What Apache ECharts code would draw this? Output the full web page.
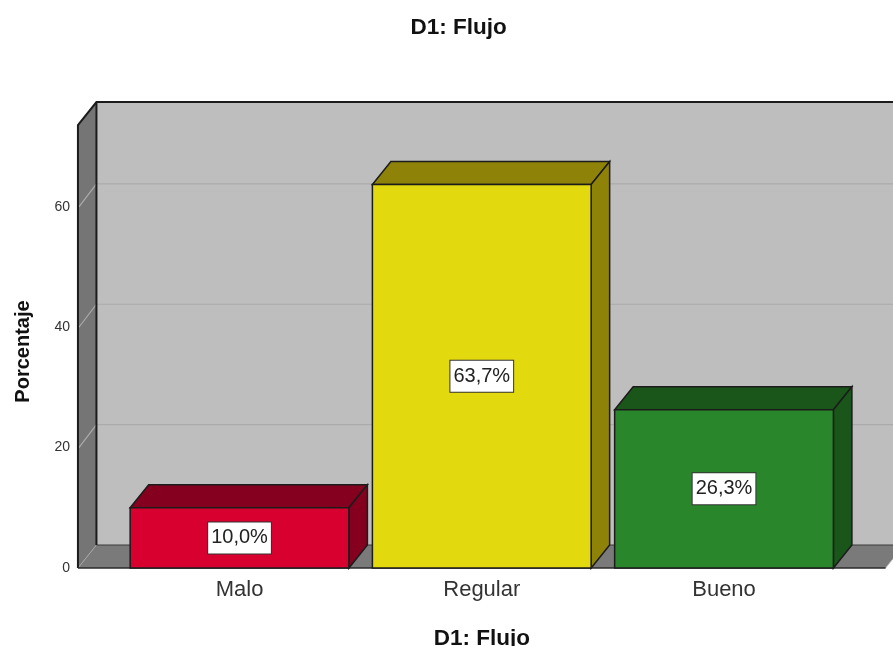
<!DOCTYPE html>
<html>
<head>
<meta charset="utf-8">
<style>html,body{margin:0;padding:0;background:#fff;overflow:hidden}#chart{width:893px;height:646px}</style>
<script src="https://cdn.jsdelivr.net/npm/echarts@6/dist/echarts.min.js"></script>
</head>
<body>
<div id="chart"></div>
<script>
// Frequency table for D1: Flujo
const categories = ['Malo', 'Regular', 'Bueno'];
const percentages = [10.0, 63.7, 26.3];
const yTicks = [0, 20, 40, 60];
const gridLines = [20, 40, 60];
const frontColors = ['#D7002E', '#E3D90F', '#29862B'];
const shadeColors = ['#84001E', '#8E8308', '#1A5519'];

// Oblique projection of the box: how far the back plane sits from the front plane
const DEPTH_X = 18.5;
const DEPTH_Y = 23;
const Y_MAX = 73.6;
const EDGE = '#1c1c1c';

const poly = (points, fill, stroke, lineWidth) => ({
  type: 'polygon',
  shape: { points },
  style: { fill, stroke: stroke || EDGE, lineWidth: lineWidth === undefined ? 1.5 : lineWidth }
});
const line = (points, stroke, lineWidth) => ({
  type: 'polyline',
  shape: { points },
  style: { fill: 'none', stroke, lineWidth }
});

// Back wall, side wall, floor and the gridlines that run across them
function renderWalls(params, api) {
  const band = api.size([1, 0])[0];
  const first = api.coord([0, 0]);
  const top = api.coord([0, Y_MAX])[1];
  const y0 = first[1];
  const xL = first[0] - band * 0.667;
  const xR = first[0] + band * 2 + band * 0.667;
  const backL = xL + DEPTH_X, backR = xR + DEPTH_X;
  const backTop = top - DEPTH_Y, backBottom = y0 - DEPTH_Y;
  const children = [
    poly([[backL, backTop], [backR, backTop], [backR, backBottom], [backL, backBottom]], '#BEBEBE', 'none', 0),
    poly([[xL, top], [backL, backTop], [backL, backBottom], [xL, y0]], '#757575', 'none', 0),
    poly([[xL, y0], [backL, backBottom], [backR, backBottom], [xR, y0]], '#7A7A7A', 'none', 0)
  ];
  gridLines.forEach(v => {
    const y = api.coord([0, v])[1];
    children.push(line([[xL + 1, y], [backL, y - DEPTH_Y], [backR, y - DEPTH_Y]], '#ABABAB', 1.2));
  });
  children.push(
    line([[xL, y0], [backL, backBottom]], '#A5A5A5', 1),
    line([[backL, backBottom], [backR, backBottom]], '#3A3A3A', 1),
    line([[xR, y0], [backR, backBottom]], '#BBBBBB', 1),
    line([[xL, y0], [xL, top], [backL, backTop], [backR, backTop]], EDGE, 2),
    line([[backL, backTop], [backL, backBottom]], EDGE, 2),
    line([[xL, y0], [xR, y0]], '#2A2A2A', 1.5)
  );
  return { type: 'group', children };
}

// One bar: front face, top face, shaded side face and its boxed value label
function renderBar(params, api) {
  const i = api.value(0);
  const v = api.value(1);
  const w = api.size([1, 0])[0] * 0.903;
  const [cx, yTop] = api.coord([i, v]);
  const y0 = api.coord([i, 0])[1];
  const l = cx - w / 2, r = cx + w / 2;
  const front = frontColors[i], shade = shadeColors[i];
  return {
    type: 'group',
    children: [
      poly([[l, yTop], [l + DEPTH_X, yTop - DEPTH_Y], [r + DEPTH_X, yTop - DEPTH_Y], [r, yTop]], shade),
      poly([[r, yTop], [r + DEPTH_X, yTop - DEPTH_Y], [r + DEPTH_X, y0 - DEPTH_Y], [r, y0]], shade),
      poly([[l, yTop], [r, yTop], [r, y0], [l, y0]], front),
      {
        type: 'text',
        x: cx,
        y: (yTop + y0) / 2,
        style: {
          text: v.toFixed(1).replace('.', ',') + '%',
          font: '20px "Liberation Sans", Arial, sans-serif',
          fill: '#222',
          align: 'center',
          verticalAlign: 'middle',
          backgroundColor: '#fff',
          borderColor: '#333',
          borderWidth: 1,
          padding: [6, 3, 5, 3]
        }
      }
    ]
  };
}

const chart = echarts.init(document.getElementById('chart'), null, { renderer: 'canvas' });
chart.setOption({
  animation: false,
  backgroundColor: '#fff',
  title: {
    text: 'D1: Flujo',
    left: 453.5,
    top: 11,
    textAlign: 'center',
    textStyle: { fontFamily: '"Liberation Sans", Arial, sans-serif', fontSize: 22.5, fontWeight: 'bold', color: '#111' }
  },
  grid: { left: 118.4, width: 726.75, top: 125, bottom: 78, outerBoundsMode: 'none' },
  xAxis: {
    type: 'category',
    data: categories,
    name: 'D1: Flujo',
    nameLocation: 'middle',
    nameGap: 59,
    nameTextStyle: { fontFamily: '"Liberation Sans", Arial, sans-serif', fontSize: 22.5, fontWeight: 'bold', color: '#111' },
    axisLine: { show: false },
    axisTick: { show: false },
    axisLabel: { fontFamily: '"Liberation Sans", Arial, sans-serif', fontSize: 22, color: '#333', margin: 11 }
  },
  yAxis: {
    type: 'value',
    min: 0,
    max: Y_MAX,
    offset: 40.4,
    name: 'Porcentaje',
    nameLocation: 'middle',
    nameGap: 45,
    nameTextStyle: { fontFamily: '"Liberation Sans", Arial, sans-serif', fontSize: 20, fontWeight: 'bold', color: '#111', padding: [0, 10, 0, 0] },
    axisLine: { show: false },
    axisTick: { show: false },
    splitLine: { show: false },
    axisLabel: {
      customValues: yTicks,
      fontFamily: '"Liberation Sans", Arial, sans-serif',
      fontSize: 14,
      color: '#333',
      margin: 8,
      padding: [2, 0, 0, 0]
    }
  },
  series: [
    {
      type: 'custom',
      name: 'walls',
      coordinateSystem: 'cartesian2d',
      renderItem: renderWalls,
      data: [[0, 0]],
      silent: true,
      z: 1
    },
    {
      type: 'custom',
      name: 'D1: Flujo',
      coordinateSystem: 'cartesian2d',
      renderItem: renderBar,
      encode: { x: 0, y: 1 },
      data: percentages.map((p, i) => [i, p]),
      z: 2
    }
  ]
});
</script>
</body>
</html>
